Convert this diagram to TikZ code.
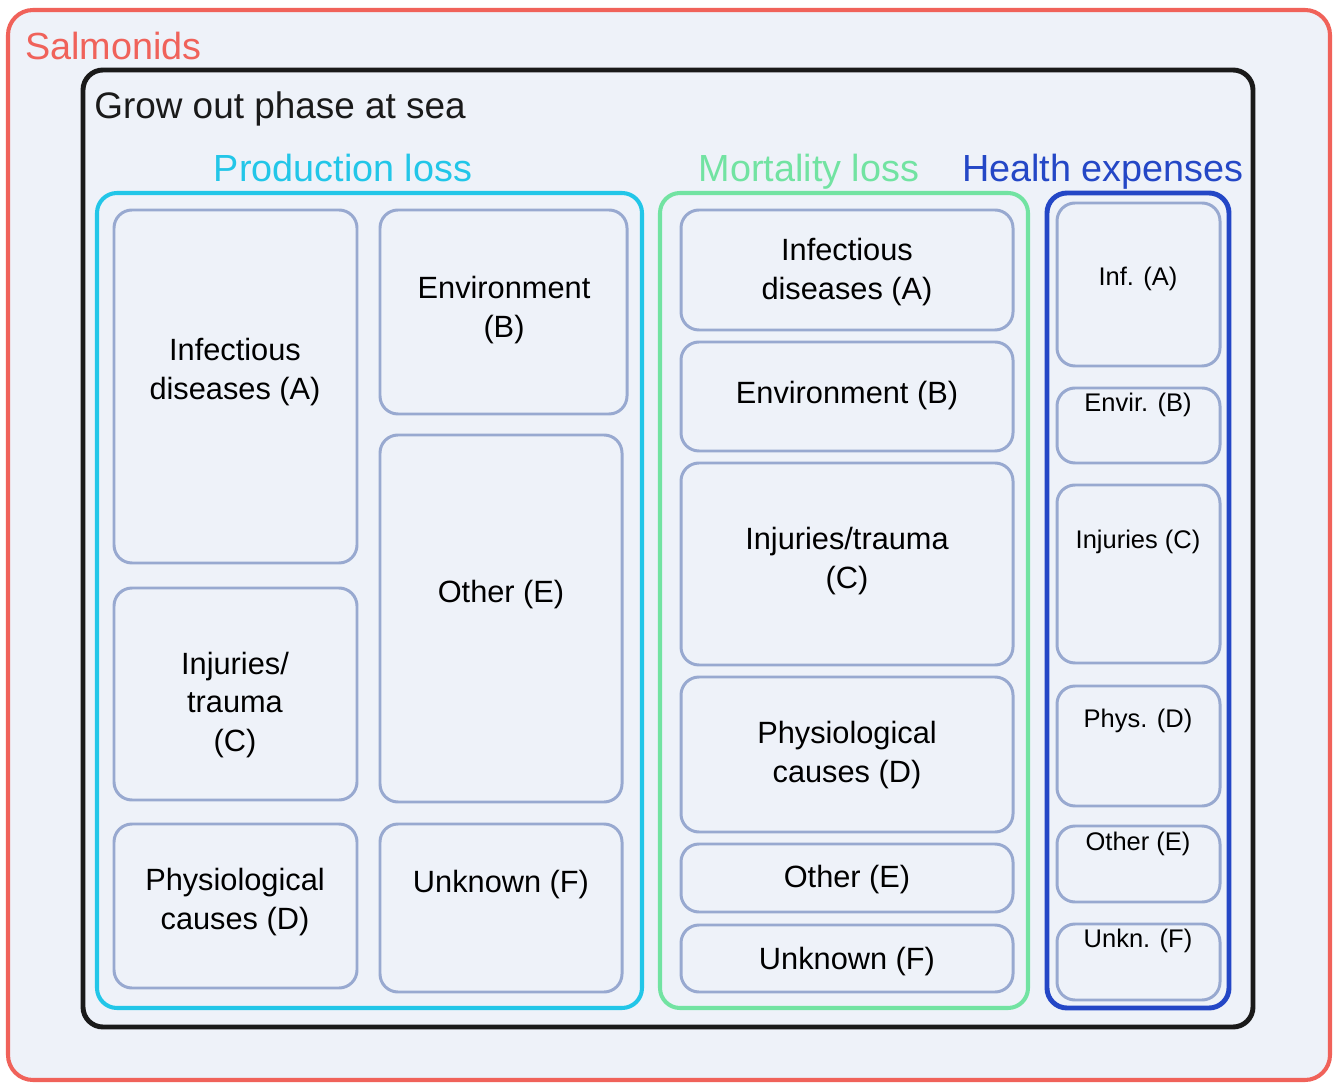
\documentclass[tikz,border=0pt]{standalone}
\usepackage{fontspec}
\setmainfont{Liberation Sans}
\usepackage{xcolor}
\usetikzlibrary{positioning, fit}

\definecolor{paneblue}{HTML}{EEF2F9}
\definecolor{salred}{HTML}{F0625A}
\definecolor{prodcyan}{HTML}{22C6E8}
\definecolor{mortgreen}{HTML}{72E3A2}
\definecolor{healthblue}{HTML}{2447C6}
\definecolor{causegray}{HTML}{98A9D0}
\definecolor{growblack}{HTML}{1A1A1A}

\begin{document}
\begin{tikzpicture}[x=0.2mm, y=-0.2mm,
   frame/.style={draw, inner sep=0pt, rounded corners=4mm},
   cause/.style={draw=causegray, line width=1.7pt, rounded corners=3.6mm, inner sep=0pt},
   txt/.style={inner sep=0pt, align=center, font=\fontsize{17.5}{22}\selectfont},
   htxt/.style={inner sep=0pt, font=\fontsize{14.5}{17}\selectfont},
   heading/.style={font=\fontsize{21.5}{25}\selectfont, inner sep=0pt, anchor=base}]
  \useasboundingbox[fill=white] (0,0) rectangle (1335,1083);

  % nested frames
  \node[frame, draw=salred, fill=paneblue, line width=2.3pt, rounded corners=5mm,
    fit={(8,10) (1330,1080)}] (salmonids) {};
  \node[heading, text=salred, anchor=base west] (salmonidsTitle) at (25,60) {Salmonids};
  \node[frame, draw=growblack, line width=2.8pt, fit={(83,70) (1253,1027)}] (growout) {};
  \node[heading, text=growblack, anchor=base west, font=\fontsize{21}{25}\selectfont]
    (growoutTitle) at (94,119) {Grow out phase at sea};

  \node[frame, draw=prodcyan, line width=2.3pt, fit={(97,193) (642,1008)}] (prod) {};
  \node[heading, text=prodcyan] (prodTitle) at (343,182) {Production loss};
  \node[frame, draw=mortgreen, line width=2.3pt, fit={(660,193) (1028,1008)}] (mort) {};
  \node[heading, text=mortgreen] (mortTitle) at (809,182) {Mortality loss};
  \node[frame, draw=healthblue, line width=2.8pt, fit={(1047,193) (1229,1008)}] (health) {};
  \node[heading, text=healthblue] (healthTitle) at (1103,182) {Health expenses};

  % production loss
  \node[cause, fit={(114,210) (357,563)}] (pInf) {};
  \node[txt] (pInfText) at (235,372) {Infectious\\diseases (A)};
  \node[cause, fit={(380,210) (627,414)}] (pEnv) {};
  \node[txt] (pEnvText) at (504,310) {Environment\\(B)};
  \node[cause, fit={(380,435) (622,802)}] (pOther) {};
  \node[txt] (pOtherText) at (501,595) {Other (E)};
  \node[cause, fit={(114,588) (357,800)}] (pInj) {};
  \node[txt] (pInjText) at (235,705) {Injuries/\\trauma\\(C)};
  \node[cause, fit={(114,824) (357,988)}] (pPhys) {};
  \node[txt] (pPhysText) at (235,902) {Physiological\\causes (D)};
  \node[cause, fit={(380,824) (622,992)}] (pUnk) {};
  \node[txt] (pUnkText) at (501,885) {Unknown (F)};

  % mortality loss
  \node[cause, fit={(681,210) (1013,330)}] (mInf) {};
  \node[txt] (mInfText) at (847,272) {Infectious\\diseases (A)};
  \node[cause, fit={(681,342) (1013,451)}] (mEnv) {};
  \node[txt] (mEnvText) at (847,396) {Environment (B)};
  \node[cause, fit={(681,463) (1013,665)}] (mInj) {};
  \node[txt] (mInjText) at (847,561) {Injuries/trauma\\(C)};
  \node[cause, fit={(681,677) (1013,832)}] (mPhys) {};
  \node[txt] (mPhysText) at (847,755) {Physiological\\causes (D)};
  \node[cause, fit={(681,844) (1013,912)}] (mOther) {};
  \node[txt] (mOtherText) at (847,880) {Other (E)};
  \node[cause, fit={(681,925) (1013,992)}] (mUnk) {};
  \node[txt] (mUnkText) at (847,962) {Unknown (F)};

  % health expenses
  \node[cause, fit={(1057,203) (1220,366)}] (hInf) {};
  \node[htxt] (hInfText) at (1138,279) {Inf. (A)};
  \node[cause, fit={(1057,388) (1220,463)}] (hEnv) {};
  \node[htxt] (hEnvText) at (1138,405) {Envir. (B)};
  \node[cause, fit={(1057,485) (1220,663)}] (hInj) {};
  \node[htxt] (hInjText) at (1138,542) {Injuries (C)};
  \node[cause, fit={(1057,686) (1220,806)}] (hPhys) {};
  \node[htxt] (hPhysText) at (1138,721) {Phys. (D)};
  \node[cause, fit={(1057,826) (1220,902)}] (hOther) {};
  \node[htxt] (hOtherText) at (1138,844) {Other (E)};
  \node[cause, fit={(1057,924) (1220,1000)}] (hUnk) {};
  \node[htxt] (hUnkText) at (1138,941) {Unkn. (F)};
\end{tikzpicture}
\end{document}
